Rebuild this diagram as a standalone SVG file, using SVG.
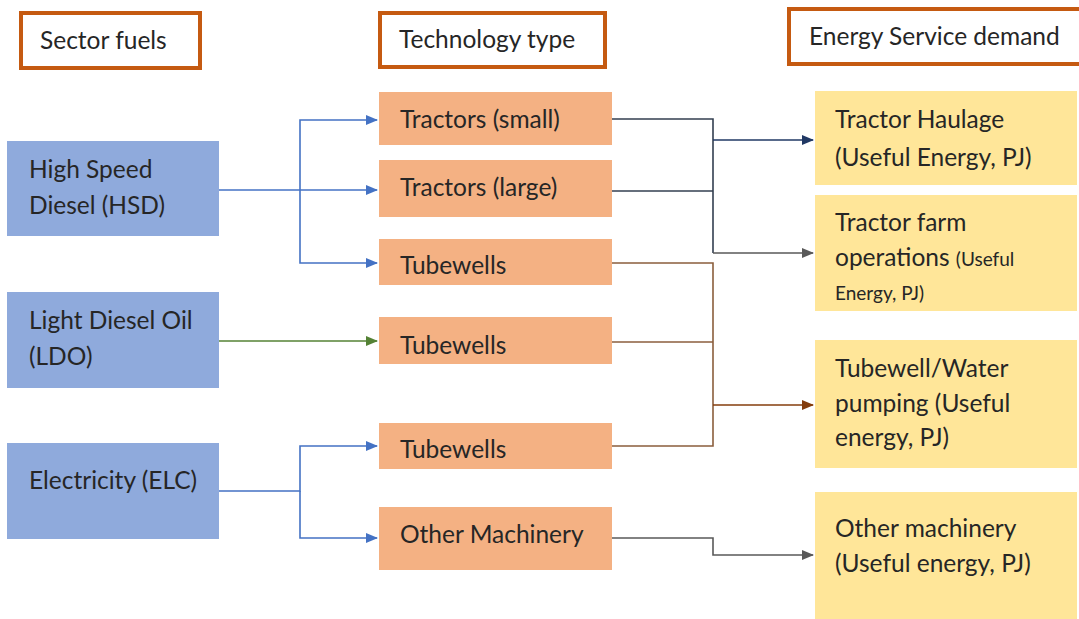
<svg xmlns="http://www.w3.org/2000/svg" width="1079" height="619" viewBox="0 0 1079 619">
<style>
text{font-family:Lato,"Liberation Sans",sans-serif;font-size:24.5px;fill:#262626}
.hdr{fill:#fff;stroke:#C55A11;stroke-width:4}
.fuel{fill:#8FAADC}
.tech{fill:#F4B183}
.dem{fill:#FFE699}
.c{fill:none;stroke-width:1.6}
.sm{font-size:19px}
</style>
<defs>
<marker id="aBlue" markerUnits="userSpaceOnUse" markerWidth="12" markerHeight="10" refX="11" refY="5" orient="auto"><path d="M0,0 L12,5 L0,10 Z" fill="#4472C4"/></marker>
<marker id="aGreen" markerUnits="userSpaceOnUse" markerWidth="12" markerHeight="10" refX="11" refY="5" orient="auto"><path d="M0,0 L12,5 L0,10 Z" fill="#548235"/></marker>
<marker id="aNavy" markerUnits="userSpaceOnUse" markerWidth="12" markerHeight="10" refX="11" refY="5" orient="auto"><path d="M0,0 L12,5 L0,10 Z" fill="#203864"/></marker>
<marker id="aGrey" markerUnits="userSpaceOnUse" markerWidth="12" markerHeight="10" refX="11" refY="5" orient="auto"><path d="M0,0 L12,5 L0,10 Z" fill="#595959"/></marker>
<marker id="aBrown" markerUnits="userSpaceOnUse" markerWidth="12" markerHeight="10" refX="11" refY="5" orient="auto"><path d="M0,0 L12,5 L0,10 Z" fill="#843C0C"/></marker>
</defs>
<rect width="1079" height="619" fill="#fff"/>

<g id="hdr-sector"><rect class="hdr" x="21" y="13" width="179" height="55"/><text x="40" y="49">Sector fuels</text></g>
<g id="hdr-tech"><rect class="hdr" x="380" y="13" width="225" height="54"/><text x="399" y="48">Technology type</text></g>
<g id="hdr-demand"><rect class="hdr" x="789" y="9" width="292" height="55"/><text x="809" y="45">Energy Service demand</text></g>

<g id="fuel-hsd"><rect class="fuel" x="7" y="141" width="212" height="95"/><text x="29" y="178">High Speed</text><text x="29" y="214">Diesel (HSD)</text></g>
<g id="fuel-ldo"><rect class="fuel" x="7" y="292" width="212" height="96"/><text x="29" y="329">Light Diesel Oil</text><text x="29" y="365">(LDO)</text></g>
<g id="fuel-elc"><rect class="fuel" x="7" y="443" width="212" height="96"/><text x="29" y="489">Electricity (ELC)</text></g>

<g id="tech-trs"><rect class="tech" x="379" y="92" width="233" height="53"/><text x="400" y="128">Tractors (small)</text></g>
<g id="tech-trl"><rect class="tech" x="379" y="160" width="233" height="57"/><text x="400" y="196">Tractors (large)</text></g>
<g id="tech-tw1"><rect class="tech" x="379" y="239" width="233" height="46"/><text x="400" y="274">Tubewells</text></g>
<g id="tech-tw2"><rect class="tech" x="379" y="317" width="233" height="47"/><text x="400" y="354">Tubewells</text></g>
<g id="tech-tw3"><rect class="tech" x="379" y="423" width="233" height="46"/><text x="400" y="458">Tubewells</text></g>
<g id="tech-om"><rect class="tech" x="379" y="507" width="233" height="63"/><text x="400" y="543">Other Machinery</text></g>

<g id="dem-haul"><rect class="dem" x="815" y="91" width="262" height="94"/><text x="835" y="128">Tractor Haulage</text><text x="835" y="166">(Useful Energy, PJ)</text></g>
<g id="dem-farm"><rect class="dem" x="815" y="195" width="262" height="116"/><text x="835" y="231">Tractor farm</text><text x="835" y="266">operations <tspan class="sm">(Useful</tspan></text><text class="sm" x="835" y="300">Energy,  PJ)</text></g>
<g id="dem-water"><rect class="dem" x="815" y="340" width="262" height="128"/><text x="835" y="377">Tubewell/Water</text><text x="835" y="412">pumping (Useful</text><text x="835" y="446">energy, PJ)</text></g>
<g id="dem-other"><rect class="dem" x="815" y="492" width="262" height="127"/><text x="835" y="537">Other machinery</text><text x="835" y="572">(Useful energy, PJ)</text></g>

<g id="connectors">
<path class="c" stroke="#4472C4" d="M219,190 H377" marker-end="url(#aBlue)"/>
<path class="c" stroke="#4472C4" d="M300,190 V120 H377" marker-end="url(#aBlue)"/>
<path class="c" stroke="#4472C4" d="M300,190 V263 H377" marker-end="url(#aBlue)"/>
<path class="c" stroke="#548235" d="M219,341 H377" marker-end="url(#aGreen)"/>
<path class="c" stroke="#4472C4" d="M219,491 H300 V446 H377" marker-end="url(#aBlue)"/>
<path class="c" stroke="#4472C4" d="M300,491 V538 H377" marker-end="url(#aBlue)"/>
<path class="c" stroke="#333F50" d="M612,119 H713 V253"/>
<path class="c" stroke="#333F50" d="M612,191 H713"/>
<path class="c" stroke="#203864" d="M713,140 H813" marker-end="url(#aNavy)"/>
<path class="c" stroke="#595959" d="M713,253 H813" marker-end="url(#aGrey)"/>
<path class="c" stroke="#8B5E3C" d="M612,263 H713 V446 H612"/>
<path class="c" stroke="#8B5E3C" d="M612,342 H713"/>
<path class="c" stroke="#843C0C" stroke-width="2" d="M713,405 H813" marker-end="url(#aBrown)"/>
<path class="c" stroke="#595959" d="M612,538 H713 V555 H813" marker-end="url(#aGrey)"/>
</g>
</svg>
